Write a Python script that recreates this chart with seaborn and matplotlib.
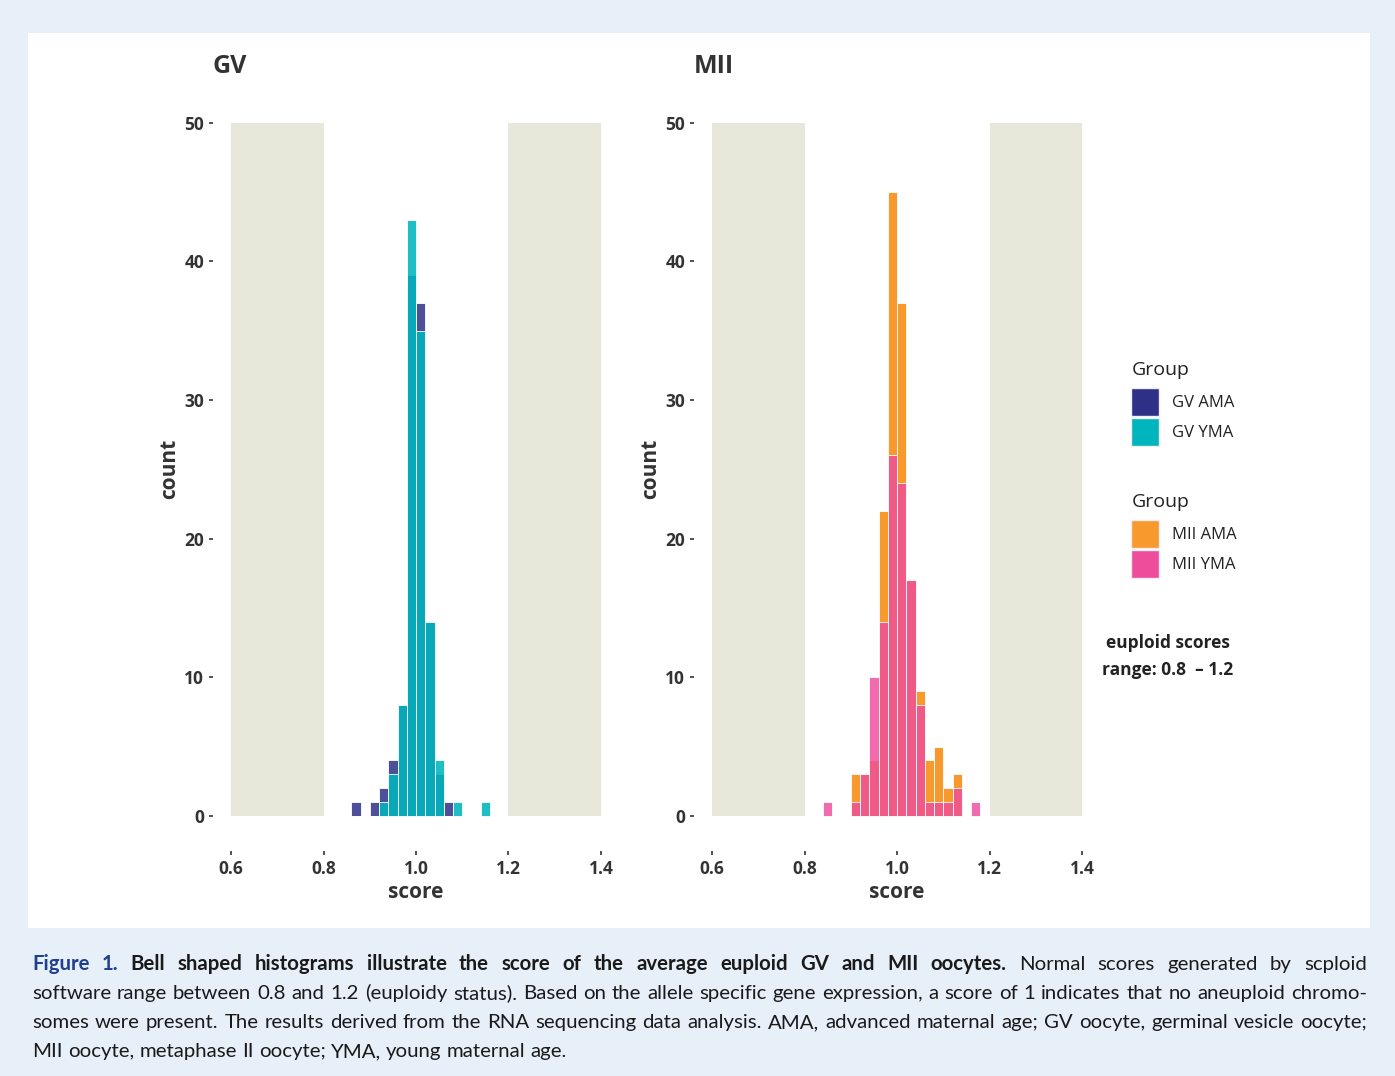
import matplotlib
matplotlib.use("Agg")
import matplotlib.pyplot as plt
import matplotlib.patches as mpatches
import pandas as pd
import seaborn as sns

# bin centres (bin width 0.02) and counts
gv_ama_score = [0.87, 0.91, 0.93, 0.95, 0.97, 0.99, 1.01, 1.03, 1.05, 1.07]
gv_ama_count = [1, 1, 2, 4, 8, 39, 37, 14, 3, 1]
gv_yma_score = [0.93, 0.95, 0.97, 0.99, 1.01, 1.03, 1.05, 1.09, 1.15]
gv_yma_count = [1, 3, 8, 43, 35, 14, 4, 1, 1]

mii_ama_score = [0.91, 0.93, 0.95, 0.97, 0.99, 1.01, 1.03, 1.05, 1.07, 1.09, 1.11, 1.13]
mii_ama_count = [3, 3, 4, 22, 45, 37, 17, 9, 4, 5, 2, 3]
mii_yma_score = [0.85, 0.91, 0.93, 0.95, 0.97, 0.99, 1.01, 1.03, 1.05, 1.07, 1.09, 1.11, 1.13, 1.17]
mii_yma_count = [1, 1, 3, 10, 14, 26, 24, 17, 8, 1, 1, 1, 2, 1]

groups_gv = ['GV AMA', 'GV YMA']
groups_mii = ['MII AMA', 'MII YMA']
colors = {'GV AMA': '#2e3087', 'GV YMA': '#00b5bd', 'MII AMA': '#f7992c', 'MII YMA': '#ee4c9c'}
alphas = {'GV AMA': 0.85, 'GV YMA': 0.88, 'MII AMA': 1.0, 'MII YMA': 0.82}

# shaded non-euploid ranges
shade_ranges = [(0.6, 0.8), (1.2, 1.4)]
shade_top = 50
x_ticks = [0.6, 0.8, 1.0, 1.2, 1.4]
y_ticks = [0, 10, 20, 30, 40, 50]

W, H = 1395, 1076

sns.set_style('white')
plt.rcParams['font.family'] = ['Open Sans', 'DejaVu Sans']

fig = plt.figure(figsize=(W / 100, H / 100), dpi=100)
fig.patch.set_facecolor('#e7eff9')
fig.patches.append(mpatches.Rectangle((28 / W, 1 - 928 / H), 1342 / W, 895 / H,
                                      transform=fig.transFigure, facecolor='white',
                                      edgecolor='none', zorder=-5))

def make_df(scores, counts, name):
    return pd.DataFrame({'score': scores, 'count': counts, 'Group': name})

panels = [
    ('GV', 212.5, [make_df(gv_ama_score, gv_ama_count, 'GV AMA'),
                   make_df(gv_yma_score, gv_yma_count, 'GV YMA')]),
    ('MII', 693.5, [make_df(mii_ama_score, mii_ama_count, 'MII AMA'),
                    make_df(mii_yma_score, mii_yma_count, 'MII YMA')]),
]

for title, left_px, dfs in panels:
    ax = fig.add_axes([left_px / W, 1 - 850.6 / H, 407 / W, 762.6 / H])
    ax.set_facecolor('white')
    for lo, hi in shade_ranges:
        ax.fill_betweenx([0, shade_top], lo, hi, color='#e8e8da', linewidth=0, zorder=0)
    # AMA first, YMA layered on top
    for d in dfs:
        g = d['Group'].iloc[0]
        sns.histplot(data=d, x='score', weights='count', binwidth=0.02, binrange=(0.84, 1.20),
                     color=colors[g], alpha=alphas[g], edgecolor='white', linewidth=0.6,
                     ax=ax, legend=False)
    ax.set_xlim(0.56, 1.44)
    ax.set_ylim(-2.5, 52.5)
    ax.set_xticks(x_ticks)
    ax.set_xticklabels([f'{t:.1f}' for t in x_ticks])
    ax.set_yticks(y_ticks)
    for s in ax.spines.values():
        s.set_visible(False)
    ax.tick_params(axis='both', length=3, width=1.2, color='#333333', labelcolor='#333333',
                   labelsize=12.5, direction='out', left=True, bottom=True)
    ax.tick_params(axis='x', pad=4)
    ax.tick_params(axis='y', pad=3)
    for lab in ax.get_xticklabels() + ax.get_yticklabels():
        lab.set_fontweight('bold')
    ax.set_xlabel('score', fontsize=15, fontweight='bold', color='#333333', labelpad=3)
    ax.set_ylabel('count', fontsize=15, fontweight='bold', color='#333333', labelpad=3)
    ax.set_title(title, loc='left', fontsize=18, fontweight='bold', color='#333333', pad=11)

# legends
def add_legend(names, top_px):
    handles = [mpatches.Patch(facecolor=colors[n], edgecolor='#eeeeee', linewidth=1, label=n)
               for n in names]
    leg = fig.legend(handles=handles, title='Group', loc='upper left',
                     bbox_to_anchor=(1123 / W, 1 - top_px / H), frameon=False,
                     fontsize=12, title_fontsize=14, handlelength=1.68, handleheight=2.21,
                     handletextpad=0.75, labelspacing=0.12, borderpad=0, alignment='left')
    leg._legend_box.sep = 6  # a bit more room under the title
    for t in leg.get_texts():
        t.set_color('#222222')
    leg.get_title().set_color('#222222')

add_legend(groups_gv, 353)
add_legend(groups_mii, 485)

fig.text(1168 / W, 1 - 643 / H, 'euploid scores', ha='center', va='center',
         fontsize=12.5, fontweight='bold', color='#222222')
fig.text(1168 / W, 1 - 670 / H, 'range: 0.8  \u2013 1.2', ha='center', va='center',
         fontsize=12.5, fontweight='bold', color='#222222')

# caption, justified word by word
blue = '#1f3f8f'
ink = '#1a1a1a'
caption_lines = [
    [('Figure 1.', 'bold', blue),
     ('Bell shaped histograms illustrate the score of the average euploid GV and MII oocytes.', 'bold', ink),
     ('Normal scores generated by scploid', 'normal', ink)],
    [('software range between 0.8 and 1.2 (euploidy status). Based on the allele specific gene '
      'expression, a score of 1 indicates that no aneuploid chromo-', 'normal', ink)],
    [('somes were present. The results derived from the RNA sequencing data analysis. AMA, '
      'advanced maternal age; GV oocyte, germinal vesicle oocyte;', 'normal', ink)],
    [('MII oocyte, metaphase II oocyte; YMA, young maternal age.', 'normal', ink)],
]
caption_base = [970, 999, 1028, 1057]
x0, x1 = 32, 1367
renderer = fig.canvas.get_renderer()

def measure(words, size):
    out = []
    for w, weight, color in words:
        t = fig.text(0, 0, w, fontsize=size, fontweight=weight, color=color,
                     family=['Lato', 'DejaVu Sans'], va='baseline')
        out.append((t, t.get_window_extent(renderer=renderer).width))
    return out

size = 14.7
probe = fig.text(0, 0, 'x x', fontsize=size, family='Lato')
probe2 = fig.text(0, 0, 'xx', fontsize=size, family='Lato')
space = probe.get_window_extent(renderer).width - probe2.get_window_extent(renderer).width
probe.remove()
probe2.remove()

for i, (pieces, base) in enumerate(zip(caption_lines, caption_base)):
    words = [(w, wt, c) for text, wt, c in pieces for w in text.split()]
    items = measure(words, size)
    total = sum(wd for _, wd in items)
    justify = i < len(caption_lines) - 1
    gap = (x1 - x0 - total) / (len(items) - 1) if justify else space
    x = x0
    for t, wd in items:
        t.set_position((x / W, 1 - base / H))
        x += wd + gap

fig.savefig('out.png', dpi=100, facecolor=fig.get_facecolor())
